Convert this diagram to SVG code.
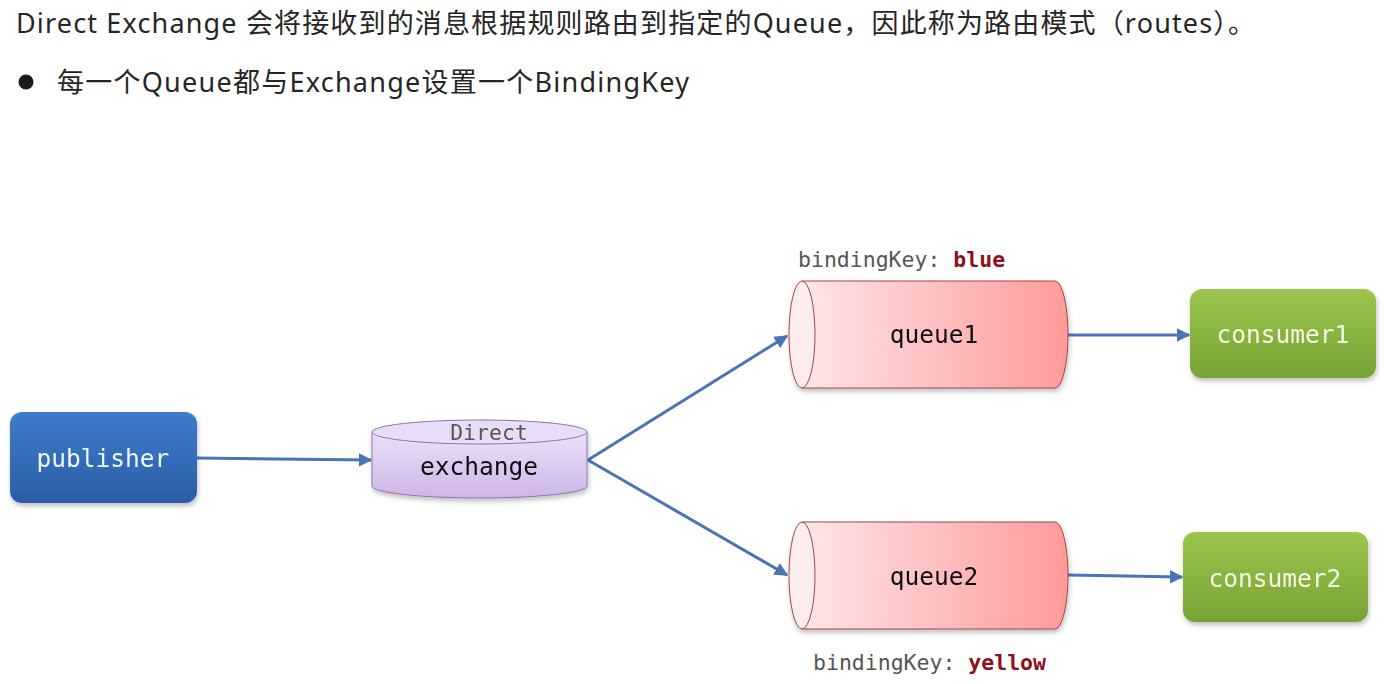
<svg xmlns="http://www.w3.org/2000/svg" width="1396" height="684" viewBox="0 0 1396 684">
<defs>
<linearGradient id="gBlue" x1="0" y1="0" x2="0" y2="1"><stop offset="0" stop-color="#3d7cca"/><stop offset="1" stop-color="#2a5ea6"/></linearGradient>
<linearGradient id="gGreen" x1="0" y1="0" x2="0" y2="1"><stop offset="0" stop-color="#9dc54e"/><stop offset="1" stop-color="#76a333"/></linearGradient>
<linearGradient id="gPurple" x1="0" y1="0" x2="0" y2="1"><stop offset="0" stop-color="#ece0f8"/><stop offset="1" stop-color="#cdb6e8"/></linearGradient>
<linearGradient id="gRed" x1="0" y1="0" x2="1" y2="0"><stop offset="0" stop-color="#fde6e8"/><stop offset="1" stop-color="#ff9a9a"/></linearGradient>
<filter id="sh" x="-10%" y="-10%" width="125%" height="130%"><feDropShadow dx="1" dy="3" stdDeviation="2.5" flood-color="#000" flood-opacity="0.25"/></filter>
<marker id="arr" viewBox="0 0 10 10" refX="9" refY="5" markerWidth="4.5" markerHeight="4.5" orient="auto"><path d="M0,0 L10,5 L0,10 z" fill="#4a74b4"/></marker>
<style>
.title{font-family:"Noto Sans","Noto Sans CJK SC",sans-serif;font-size:27px;fill:#262626}
.mono{font-family:"DejaVu Sans Mono","Liberation Mono",monospace}
.lbl{font-size:24.5px;text-anchor:middle;dominant-baseline:central}
.light{fill:#eef6ff}
.lightg{fill:#f4fae6}
.key{font-size:21.5px;fill:#555}
.kv{fill:#8c1020;font-weight:bold}
.conn{stroke:#4a74b4;stroke-width:3;fill:none;marker-end:url(#arr)}
</style>
</defs>
<rect width="1396" height="684" fill="#ffffff"/>
<text class="title" x="16" y="33" textLength="1239" lengthAdjust="spacing">Direct Exchange 会将接收到的消息根据规则路由到指定的Queue，因此称为路由模式（routes）。</text>
<circle cx="26" cy="82" r="7.5" fill="#1a1a1a"/>
<text class="title" x="57" y="92" textLength="632" lengthAdjust="spacing">每一个Queue都与Exchange设置一个BindingKey</text>

<g id="connectors">
<line class="conn" x1="197" y1="458" x2="371" y2="460"/>
<line class="conn" x1="588" y1="460" x2="787" y2="336"/>
<line class="conn" x1="588" y1="460" x2="787" y2="575"/>
<line class="conn" x1="1068" y1="335" x2="1189" y2="335"/>
<line class="conn" x1="1068" y1="575" x2="1182" y2="577"/>
</g>

<g id="publisher" filter="url(#sh)">
<rect x="10" y="412" width="187" height="91" rx="12" fill="url(#gBlue)"/>
<text class="mono lbl light" x="103" y="458">publisher</text>
</g>

<g id="exchange" filter="url(#sh)">
<path d="M372,432 L372,486 A107.5,12 0 0 0 587,486 L587,432 Z" fill="url(#gPurple)" stroke="#8a78a8" stroke-width="1"/>
<ellipse cx="479.5" cy="432" rx="107.5" ry="12" fill="#e9dcf7" stroke="#8a78a8" stroke-width="1"/>
<text class="mono" x="489" y="432" font-size="21.5" fill="#555" text-anchor="middle" dominant-baseline="central">Direct</text>
<text class="mono lbl" x="479" y="466" fill="#111">exchange</text>
</g>

<g id="queue1" filter="url(#sh)">
<path d="M802,281 L1055,281 A13,53.5 0 0 1 1055,388 L802,388 Z" fill="url(#gRed)" stroke="#a04848" stroke-width="1"/>
<ellipse cx="802" cy="334.5" rx="13" ry="53.5" fill="#fdecee" stroke="#a04848" stroke-width="1"/>
<text class="mono lbl" x="934" y="334" fill="#111">queue1</text>
</g>

<g id="queue2" filter="url(#sh)">
<path d="M802,522 L1055,522 A13,53.5 0 0 1 1055,629 L802,629 Z" fill="url(#gRed)" stroke="#a04848" stroke-width="1"/>
<ellipse cx="802" cy="575.5" rx="13" ry="53.5" fill="#fdecee" stroke="#a04848" stroke-width="1"/>
<text class="mono lbl" x="934" y="576" fill="#111">queue2</text>
</g>

<g id="consumer1" filter="url(#sh)">
<rect x="1190" y="289" width="186" height="89" rx="12" fill="url(#gGreen)"/>
<text class="mono lbl lightg" x="1283" y="334">consumer1</text>
</g>

<g id="consumer2" filter="url(#sh)">
<rect x="1183" y="532" width="185" height="90" rx="12" fill="url(#gGreen)"/>
<text class="mono lbl lightg" x="1275" y="578">consumer2</text>
</g>

<g id="label-blue">
<text class="mono key" x="798" y="267">bindingKey: <tspan class="kv">blue</tspan></text>
</g>
<g id="label-yellow">
<text class="mono key" x="813" y="670">bindingKey: <tspan class="kv">yellow</tspan></text>
</g>
</svg>
